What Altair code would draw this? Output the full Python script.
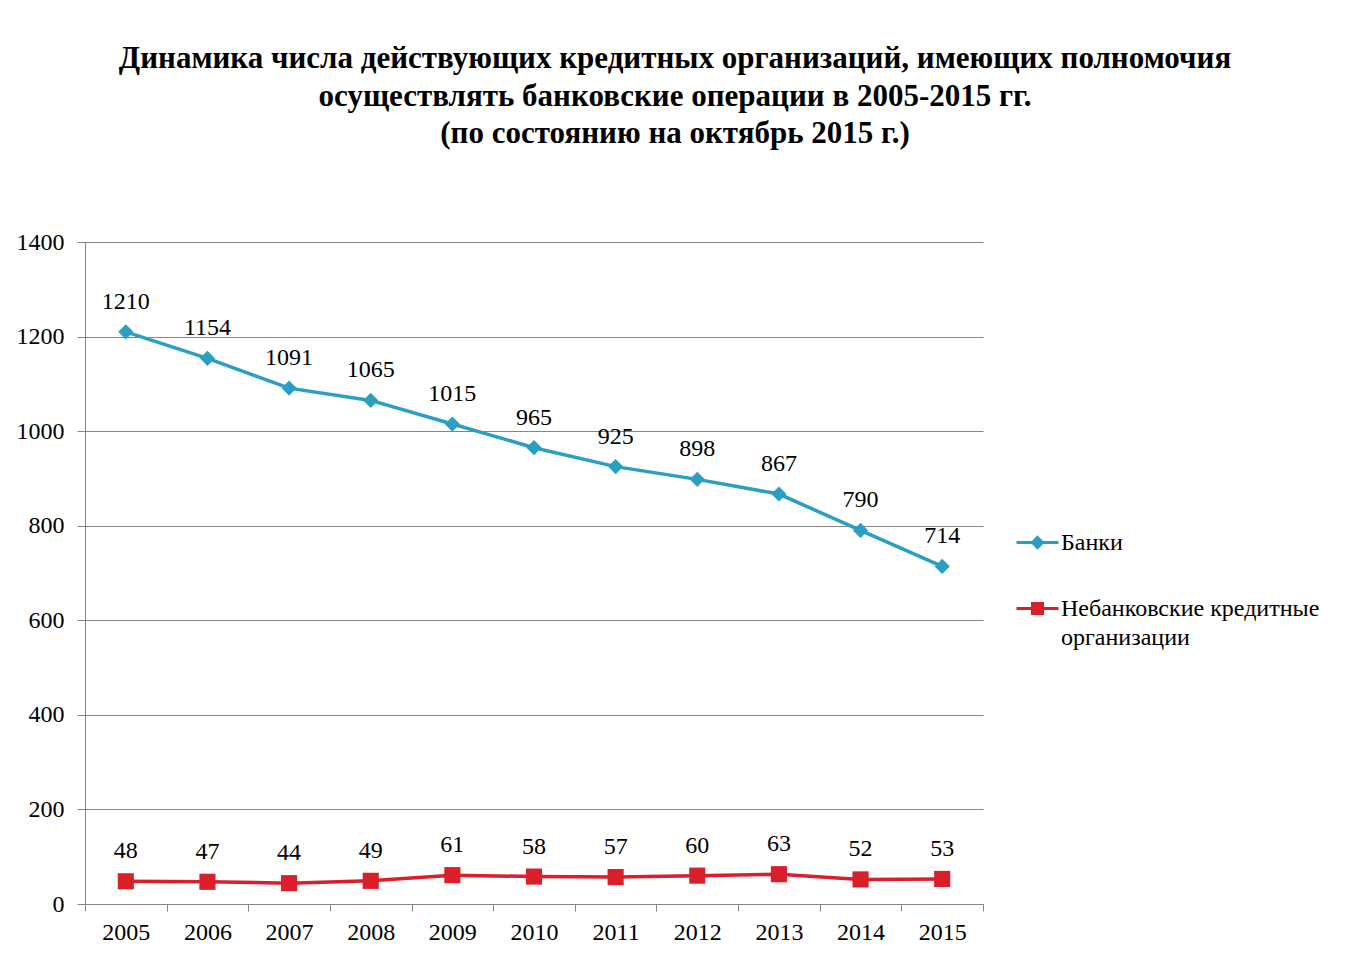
import altair as alt
import pandas as pd

years = ["2005", "2006", "2007", "2008", "2009", "2010", "2011", "2012", "2013", "2014", "2015"]
banks = [1210, 1154, 1091, 1065, 1015, 965, 925, 898, 867, 790, 714]
nbko = [48, 47, 44, 49, 61, 58, 57, 60, 63, 52, 53]
series_names = ["Банки", "Небанковские кредитные\nорганизации"]
title_lines = [
    "Динамика числа действующих кредитных организаций, имеющих полномочия",
    "осуществлять банковские операции в 2005-2015 гг.",
    "(по состоянию на октябрь 2015 г.)",
]
colors = ["#2A9FC3", "#DA1F2B"]

rows = []
for y, b in zip(years, banks):
    rows.append({"year": y, "value": b, "series": series_names[0]})
for y, n in zip(years, nbko):
    rows.append({"year": y, "value": n, "series": series_names[1]})
df = pd.DataFrame(rows)

FONT = "Liberation Serif"

x_enc = alt.X("year:N", sort=years, title=None,
              scale=alt.Scale(paddingInner=0, paddingOuter=0),
              axis=alt.Axis(labelAngle=0, tickBand="extent", labelFontSize=24, labelFont=FONT,
                            labelColor="black", domainColor="#868686", tickColor="#868686",
                            tickSize=7, labelPadding=9, grid=False))
y_enc = alt.Y("value:Q", title=None,
              scale=alt.Scale(domain=[0, 1400], nice=False),
              axis=alt.Axis(values=[0, 200, 400, 600, 800, 1000, 1200, 1400], format="d",
                            labelFontSize=24, labelFont=FONT, labelColor="black",
                            domainColor="#868686", tickColor="#868686", tickSize=8,
                            labelPadding=13, gridColor="#868686", gridWidth=1))

base = alt.Chart(df)
shapes = ["diamond", "square"]
sizes = [230, 260]

layers = []
for name, col in zip(series_names, colors):
    layers.append(base.transform_filter(alt.datum.series == name)
                  .mark_line(strokeWidth=3.5, color=col).encode(x=x_enc, y=y_enc))
for name, col, shp, sz in zip(series_names, colors, shapes, sizes):
    layers.append(base.transform_filter(alt.datum.series == name)
                  .mark_point(shape=shp, filled=True, size=sz, opacity=1, color=col)
                  .encode(x=x_enc, y=y_enc))

labels = base.mark_text(dy=-30, fontSize=24, font=FONT, color="black").encode(
    x=x_enc, y=y_enc, text="value:Q"
)
layers.append(labels)

path_b = ("M-1,0L1,0"
          "M0,-0.24L0.24,0L0,0.24L-0.24,0Z"
          "M0,-0.14L0.14,0L0,0.14L-0.14,0Z"
          "M0,-0.04L0.04,0L0,0.04L-0.04,0Z")
path_n = ("M-1,0L1,0"
          "M-0.24,-0.24L0.24,-0.24L0.24,0.24L-0.24,0.24Z"
          "M-0.14,-0.14L0.14,-0.14L0.14,0.14L-0.14,0.14Z"
          "M-0.04,-0.04L0.04,-0.04L0.04,0.04L-0.04,0.04Z")

leg = dict(
    title=None, orient="none", legendX=930, legendY=278,
    symbolSize=1764, symbolStrokeWidth=3, symbolOpacity=1,
    labelFontSize=24, labelFont=FONT, labelColor="black", labelOffset=1,
    labelLimit=400, rowPadding=31,
)

legend_layer = base.transform_filter(alt.datum.value < 0).mark_point(filled=False).encode(
    x=x_enc, y=y_enc,
    color=alt.Color("series:N", scale=alt.Scale(domain=series_names, range=colors),
                    legend=alt.Legend(**leg)),
    shape=alt.Shape("series:N", scale=alt.Scale(domain=series_names, range=[path_b, path_n]),
                    legend=alt.Legend(**leg)),
)
layers.append(legend_layer)

chart = alt.layer(*layers).properties(
    width=898, height=662,
    autosize=alt.AutoSizeParams(type="none"),
    padding={"left": 77, "top": 234, "right": 359, "bottom": 48},
    title=alt.TitleParams(
        text=title_lines, anchor="middle", frame="group", dx=141, offset=80,
        fontSize=31, font=FONT, fontWeight="bold", color="black", lineHeight=37.5,
    ),
).configure(
    background="white",
    view=alt.ViewConfig(stroke=None),
    style={"guide-label": {"lineBreak": "\n", "lineHeight": 29}},
)

chart.save("out.html", embed_options={"renderer": "svg", "actions": False})
